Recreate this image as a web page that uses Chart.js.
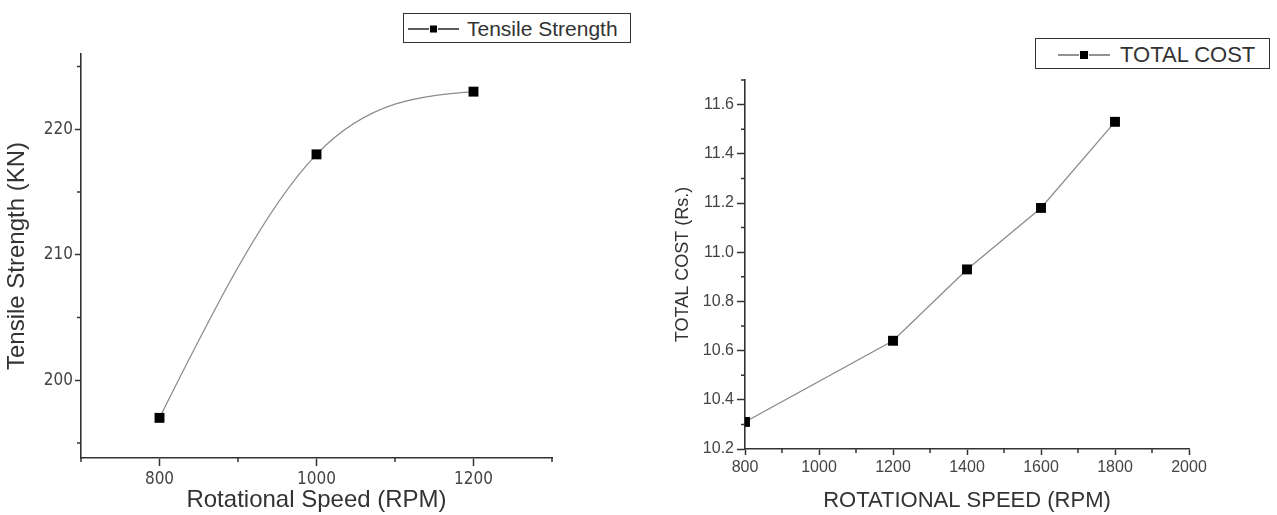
<!DOCTYPE html>
<html>
<head>
<meta charset="utf-8">
<script src="https://cdn.jsdelivr.net/npm/chart.js@4/dist/chart.umd.min.js"></script>
<style>
  html, body { margin: 0; padding: 0; background: #fff; }
  body { width: 1277px; height: 515px; position: relative; overflow: hidden; font-family: 'Liberation Sans', Arial, sans-serif; }
  .wrap { position: absolute; top: 0; }
  .legend { position: absolute; border: 1.5px solid #333; box-sizing: border-box; background: #fff; color: #333; }
  .legend svg { position: absolute; }
  .legend span { position: absolute; white-space: nowrap; line-height: 1; }
</style>
</head>
<body>
<div class="wrap" style="left:0;width:640px;height:515px;"><canvas id="c1" width="640" height="515"></canvas></div>
<div class="wrap" style="left:640px;width:637px;height:515px;"><canvas id="c2" width="637" height="515"></canvas></div>
<div id="lg1" class="legend" style="left:403px;top:13px;width:228px;height:30px;"></div>
<div id="lg2" class="legend" style="left:1035px;top:38px;width:235px;height:31px;"></div>
<script>
// ---------- Data: Tensile strength chart ----------
const tsLabel = 'Tensile Strength';
const tsSpeed = [800, 1000, 1200];
const tsValues = [197, 218, 223];
const tsXTicks = [800, 1000, 1200];
const tsXMinor = [700, 900, 1100, 1300];
const tsYTicks = [200, 210, 220];
const tsYMinor = [195, 205, 215, 225];
const tsXTitle = 'Rotational Speed (RPM)';
const tsYTitle = 'Tensile Strength (KN)';

// ---------- Data: Total cost chart ----------
const tcLabel = 'TOTAL COST';
const tcSpeed = [800, 1200, 1400, 1600, 1800];
const tcValues = [10.31, 10.64, 10.93, 11.18, 11.53];
const tcXTicks = [800, 1000, 1200, 1400, 1600, 1800, 2000];
const tcXMinor = [900, 1100, 1300, 1500, 1700, 1900];
const tcYTicks = [10.2, 10.4, 10.6, 10.8, 11.0, 11.2, 11.4, 11.6];
const tcYMinor = [10.3, 10.5, 10.7, 10.9, 11.1, 11.3, 11.5, 11.7];
const tcXTitle = 'ROTATIONAL SPEED (RPM)';
const tcYTitle = 'TOTAL COST (Rs.)';

const AXIS = '#333';
const TEXT = '#444';
const LINE = '#8c8c8c';

// minor tick marks, placed through the chart's own scales
const minorTicks = {
  id: 'minorTicks',
  afterDraw(chart, args, opts) {
    const { ctx } = chart;
    const x = chart.scales.x, y = chart.scales.y;
    ctx.save();
    ctx.strokeStyle = AXIS;
    ctx.lineWidth = 1.5;
    ctx.beginPath();
    opts.x.forEach(v => {
      const px = x.getPixelForValue(v);
      ctx.moveTo(px, x.top); ctx.lineTo(px, x.top + opts.len);
    });
    opts.y.forEach(v => {
      const py = y.getPixelForValue(v);
      ctx.moveTo(y.right, py); ctx.lineTo(y.right - opts.len, py);
    });
    ctx.stroke();
    ctx.restore();
  }
};

// natural cubic spline connection through the dataset's own point elements
const splineLine = {
  id: 'splineLine',
  beforeDatasetsDraw(chart, args, opts) {
    if (!opts.enabled) return;
    const meta = chart.getDatasetMeta(0);
    const p = meta.data.map(e => ({ x: e.x, y: e.y }));
    const n = p.length;
    if (n < 2) return;
    const h = [], M = new Array(n).fill(0);
    for (let i = 0; i < n - 1; i++) h.push(p[i + 1].x - p[i].x);
    if (n > 2) {
      const a = [], b = [], c = [], d = [];
      for (let i = 1; i < n - 1; i++) {
        a.push(h[i - 1]); b.push(2 * (h[i - 1] + h[i])); c.push(h[i]);
        d.push(6 * ((p[i + 1].y - p[i].y) / h[i] - (p[i].y - p[i - 1].y) / h[i - 1]));
      }
      const m = b.length;
      for (let i = 1; i < m; i++) {
        const w = a[i] / b[i - 1];
        b[i] -= w * c[i - 1]; d[i] -= w * d[i - 1];
      }
      const sol = new Array(m);
      sol[m - 1] = d[m - 1] / b[m - 1];
      for (let i = m - 2; i >= 0; i--) sol[i] = (d[i] - c[i] * sol[i + 1]) / b[i];
      for (let i = 0; i < m; i++) M[i + 1] = sol[i];
    }
    const slope = [];
    for (let i = 0; i < n - 1; i++) slope.push((p[i + 1].y - p[i].y) / h[i] - h[i] * (2 * M[i] + M[i + 1]) / 6);
    slope.push((p[n - 1].y - p[n - 2].y) / h[n - 2] + h[n - 2] * (M[n - 2] + 2 * M[n - 1]) / 6);
    const { ctx, chartArea } = chart;
    ctx.save();
    ctx.beginPath();
    ctx.rect(chartArea.left, chartArea.top, chartArea.right - chartArea.left, chartArea.bottom - chartArea.top);
    ctx.clip();
    ctx.beginPath();
    ctx.moveTo(p[0].x, p[0].y);
    for (let i = 0; i < n - 1; i++) {
      const t = h[i] / 3;
      ctx.bezierCurveTo(p[i].x + t, p[i].y + slope[i] * t, p[i + 1].x - t, p[i + 1].y - slope[i + 1] * t, p[i + 1].x, p[i + 1].y);
    }
    ctx.strokeStyle = opts.color;
    ctx.lineWidth = opts.width;
    ctx.stroke();
    ctx.restore();
  }
};

function makeChart(id, cfg) {
  const points = cfg.xs.map((xv, i) => ({ x: xv, y: cfg.ys[i] }));
  return new Chart(document.getElementById(id), {
    type: 'line',
    data: {
      datasets: [{
        label: cfg.label,
        data: points,
        showLine: !cfg.spline,
        borderColor: LINE,
        borderWidth: 1.3,
        backgroundColor: '#000',
        pointStyle: 'rect',
        pointRadius: 7,
        pointHoverRadius: 7,
        pointBorderWidth: 0,
        pointBackgroundColor: '#000',
        tension: 0,
        fill: false
      }]
    },
    options: {
      responsive: false,
      animation: false,
      events: [],
      layout: { padding: cfg.padding },
      plugins: {
        legend: { display: false },
        tooltip: { enabled: false },
        minorTicks: { x: cfg.xMinor, y: cfg.yMinor, len: cfg.minorLen },
        splineLine: { enabled: cfg.spline, color: LINE, width: 1.3 }
      },
      scales: {
        x: {
          type: 'linear',
          min: cfg.xMin, max: cfg.xMax,
          afterBuildTicks: s => { s.ticks = cfg.xTicks.map(v => ({ value: v })); },
          afterFit: s => { s.height = cfg.xHeight; },
          border: { display: true, color: AXIS, width: 1.6 },
          grid: { display: true, drawOnChartArea: false, drawTicks: true, tickLength: cfg.xTickLen, tickColor: AXIS, tickWidth: 1.5 },
          ticks: { color: TEXT, font: cfg.tickFont, padding: cfg.xTickPad, maxRotation: 0, autoSkip: false,
                   callback: v => cfg.xFmt(v) },
          title: { display: true, text: cfg.xTitle, color: '#333', font: cfg.xTitleFont, padding: { top: 0, bottom: cfg.xTitlePad } }
        },
        y: {
          type: 'linear',
          min: cfg.yMin, max: cfg.yMax,
          afterBuildTicks: s => { s.ticks = cfg.yTicks.map(v => ({ value: v })); },
          afterFit: s => { s.width = cfg.yWidth; },
          border: { display: true, color: AXIS, width: 1.6 },
          grid: { display: true, drawOnChartArea: false, drawTicks: true, tickLength: cfg.yTickLen, tickColor: AXIS, tickWidth: 1.5 },
          ticks: { color: TEXT, font: cfg.tickFont, padding: cfg.yTickPad, autoSkip: false,
                   callback: v => cfg.yFmt(v) },
          title: { display: true, text: cfg.yTitle, color: '#333', font: cfg.yTitleFont, padding: { top: cfg.yTitlePad, bottom: 0 } }
        }
      }
    },
    plugins: [minorTicks, splineLine]
  });
}

makeChart('c1', {
  label: tsLabel, xs: tsSpeed, ys: tsValues, spline: true,
  xTicks: tsXTicks, xMinor: tsXMinor, yTicks: tsYTicks, yMinor: tsYMinor,
  xMin: 700, xMax: 1300, yMin: 193.8, yMax: 226,
  padding: { top: 54, right: 88, bottom: 0, left: 0 },
  xHeight: 57, yWidth: 81,
  xTickLen: 8, yTickLen: 6, minorLen: 4,
  xTickPad: 3, yTickPad: 2,
  tickFont: { family: "'Liberation Sans Narrow', 'DejaVu Sans Condensed', 'Liberation Sans', sans-serif", size: 17 },
  xFmt: v => String(v), yFmt: v => String(v),
  xTitle: tsXTitle, yTitle: tsYTitle,
  xTitleFont: { family: "'Liberation Sans', Arial, sans-serif", size: 24 },
  yTitleFont: { family: "'Liberation Sans', Arial, sans-serif", size: 24 },
  xTitlePad: 0, yTitlePad: 3
});

makeChart('c2', {
  label: tcLabel, xs: tcSpeed, ys: tcValues, spline: false,
  xTicks: tcXTicks, xMinor: tcXMinor, yTicks: tcYTicks, yMinor: tcYMinor,
  xMin: 800, xMax: 2000, yMin: 10.2, yMax: 11.7,
  padding: { top: 80, right: 88, bottom: 0, left: 0 },
  xHeight: 66, yWidth: 105,
  xTickLen: 6, yTickLen: 8, minorLen: 4,
  xTickPad: 3, yTickPad: 3,
  tickFont: { family: "'Liberation Sans', Arial, sans-serif", size: 16 },
  xFmt: v => String(v), yFmt: v => v.toFixed(1),
  xTitle: tcXTitle, yTitle: tcYTitle,
  xTitleFont: { family: "'Liberation Sans', Arial, sans-serif", size: 22 },
  yTitleFont: { family: "'Liberation Sans', Arial, sans-serif", size: 18 },
  xTitlePad: 1, yTitlePad: 32
});

function buildLegend(id, label, o) {
  const el = document.getElementById(id);
  const w = o.sampleW, h = 14, mid = w / 2;
  el.innerHTML =
    '<svg width="' + w + '" height="' + h + '" style="left:' + o.sx + 'px;top:' + o.sy + 'px">' +
    '<line x1="0" y1="7" x2="' + (mid - o.m / 2 - 1) + '" y2="7" stroke="' + o.lc + '" stroke-width="1.6"/>' +
    '<line x1="' + (mid + o.m / 2 + 1) + '" y1="7" x2="' + w + '" y2="7" stroke="' + o.lc + '" stroke-width="1.6"/>' +
    '<rect x="' + (mid - o.m / 2) + '" y="' + (7 - o.m / 2) + '" width="' + o.m + '" height="' + o.m + '" fill="#000"/>' +
    '</svg><span style="left:' + o.tx + 'px;top:' + o.ty + 'px;font-size:' + o.fs + 'px;">' + label + '</span>';
}
buildLegend('lg1', tsLabel, { sampleW: 51, sx: 4, sy: 8, m: 7, lc: '#333', tx: 63, ty: 4, fs: 21 });
buildLegend('lg2', tcLabel, { sampleW: 52, sx: 22, sy: 8.5, m: 8, lc: '#777', tx: 84, ty: 5, fs: 22 });
</script>
</body>
</html>
